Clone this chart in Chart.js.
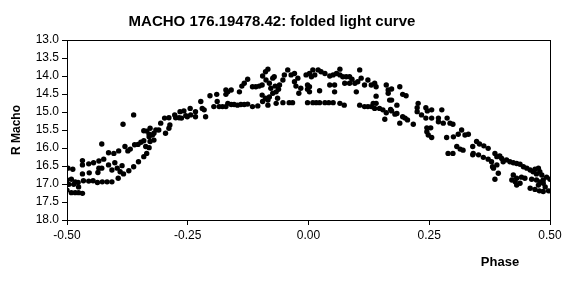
<!DOCTYPE html>
<html>
<head>
<meta charset="utf-8">
<script src="https://cdn.jsdelivr.net/npm/chart.js@4"></script>
<style>
  body { margin: 0; background: #fff; }
  #wrap { width: 579px; height: 294px; }
</style>
</head>
<body>
<div id="wrap"><canvas id="lightCurve" width="579" height="294"></canvas></div>
<script>
// folded light curve
const phase = [
  -0.498,-0.488,-0.362,-0.384,-0.341,-0.428,-0.341,-0.347,-0.353,-0.360,
  -0.369,-0.380,-0.374,-0.393,-0.403,-0.414,-0.341,-0.352,-0.362,-0.372,
  -0.383,-0.394,-0.407,-0.417,-0.427,-0.437,-0.446,-0.455,-0.466,-0.468,
  -0.468,-0.455,-0.445,-0.434,-0.424,-0.434,-0.428,-0.436,-0.454,-0.468,
  -0.414,-0.401,-0.396,-0.390,-0.386,-0.407,-0.500,-0.491,-0.483,-0.477,
  -0.486,-0.496,-0.476,-0.500,-0.491,-0.483,-0.476,-0.468,
  -0.335,-0.330,-0.337,-0.328,-0.330,-0.335,-0.328,-0.320,-0.316,-0.320,
  -0.310,-0.306,-0.298,-0.289,-0.287,-0.296,-0.289,-0.277,-0.275,-0.268,
  -0.266,-0.263,-0.258,-0.254,-0.251,-0.245,-0.244,-0.234,-0.234,-0.223,
  -0.220,-0.216,-0.213,-0.204,-0.196,-0.190,-0.189,-0.185,-0.178,-0.171,
  -0.171,-0.171,-0.330,-0.323,
  -0.167,-0.160,-0.143,-0.138,-0.133,-0.126,-0.116,-0.109,-0.102,-0.096,
  -0.095,-0.089,-0.084,-0.088,-0.081,-0.078,-0.074,-0.071,-0.069,-0.067,
  -0.062,-0.060,-0.053,-0.050,-0.043,-0.036,-0.029,-0.029,-0.026,-0.022,
  -0.020,-0.016,-0.005,-0.002,-0.002,-0.096,-0.089,-0.084,-0.081,-0.074,
  -0.064,-0.084,-0.067,-0.053,-0.040,-0.033,-0.002,-0.167,-0.160,-0.154,
  -0.147,-0.140,-0.133,-0.126,-0.116,-0.105,-0.095,
  0.002,0.009,0.020,0.026,0.034,0.006,0.013,0.044,0.051,0.058,
  0.065,0.065,0.071,0.078,0.085,0.090,0.075,0.085,0.096,0.102,
  0.106,0.109,0.116,0.123,0.130,0.137,0.140,0.002,0.002,0.023,
  0.044,0.054,0.054,0.099,0.140,0.161,0.165,0.165,0.009,0.016,
  0.023,0.034,0.042,0.051,0.065,0.074,0.106,0.116,0.123,0.130,
  0.134,0.140,0.137,0.147,0.154,0.161,0.158,0.168,0.170,
  0.172,0.189,0.172,0.183,0.195,0.202,0.172,0.179,0.183,0.195,
  0.200,0.205,0.189,0.217,0.227,0.225,0.225,0.234,0.243,0.243,
  0.246,0.255,0.276,0.255,0.269,0.269,0.279,0.287,0.293,0.299,
  0.245,0.253,0.245,0.255,0.248,0.286,0.300,0.310,0.317,0.324,
  0.331,0.307,0.314,0.320,0.289,0.299,0.340,0.340,
  0.348,0.354,0.363,0.372,0.341,0.352,0.362,0.372,0.379,0.386,
  0.390,0.396,0.400,0.403,0.381,0.390,0.383,0.393,0.386,0.410,
  0.417,0.424,0.431,0.438,0.445,0.452,0.459,0.469,0.476,0.479,
  0.465,0.472,0.483,0.424,0.431,0.441,0.448,0.421,0.428,0.438,
  0.431,0.462,0.472,0.479,0.486,0.493,0.500,0.476,0.486,0.459,
  0.469,0.478,0.486,0.497,0.490
];
const rMacho = [
  16.56,16.59,15.08,15.34,15.52,15.89,15.80,15.84,15.90,15.91,
  16.03,15.96,16.08,16.08,16.15,16.13,16.24,16.38,16.52,16.63,
  16.72,16.84,16.94,16.94,16.94,16.96,16.91,16.92,16.91,16.35,
  16.47,16.44,16.41,16.36,16.31,16.56,16.56,16.68,16.69,16.72,
  16.47,16.41,16.56,16.66,16.49,16.61,16.89,16.87,16.94,16.96,
  17.01,17.01,17.08,17.17,17.24,17.24,17.24,17.26,
  16.15,15.99,15.96,15.82,15.69,15.53,15.45,15.78,15.50,15.59,
  15.50,15.31,15.17,15.16,15.36,15.59,15.45,15.08,15.16,15.16,
  14.99,15.17,14.97,15.10,15.13,14.90,15.08,15.13,14.99,14.71,
  14.90,14.94,15.13,14.55,14.85,14.51,14.71,14.85,14.85,14.39,
  14.51,14.85,15.62,15.64,
  14.44,14.39,14.44,14.28,14.20,14.09,14.30,14.30,14.28,14.25,
  14.00,13.88,13.81,14.11,14.20,14.34,14.06,14.02,14.28,14.44,
  14.37,14.25,14.11,13.97,13.83,13.97,13.93,14.16,14.28,14.06,
  14.48,14.34,13.97,14.25,14.37,14.53,14.62,14.67,14.58,14.48,
  14.62,14.81,14.76,14.74,14.74,14.74,14.74,14.76,14.79,14.79,
  14.81,14.79,14.79,14.78,14.85,14.83,14.71,
  13.93,13.83,13.83,13.88,13.93,14.02,13.97,14.00,13.97,13.93,
  13.81,13.97,14.02,14.02,14.02,14.09,14.20,14.20,14.20,14.16,
  13.83,14.06,14.25,14.11,14.25,14.20,14.30,14.30,14.44,14.41,
  14.25,14.25,14.44,14.44,14.56,14.25,14.39,14.48,14.74,14.74,
  14.74,14.74,14.74,14.74,14.76,14.81,14.81,14.85,14.85,14.85,
  14.76,14.76,14.90,14.90,14.94,15.02,15.20,14.67,14.93,
  14.36,14.30,14.67,14.81,14.51,14.55,14.97,15.06,15.04,15.13,
  15.17,15.22,15.31,15.34,14.76,14.88,14.99,15.08,14.88,15.17,
  14.97,14.94,14.94,15.17,15.17,15.27,15.31,15.17,15.31,15.34,
  15.44,15.44,15.55,15.71,15.64,15.71,15.69,15.62,15.50,15.64,
  15.62,15.96,16.03,16.06,16.15,16.15,15.96,16.19,
  15.82,15.89,15.94,16.01,16.15,16.19,16.26,16.31,16.38,16.15,
  16.24,16.22,16.29,16.38,16.52,16.47,16.56,16.70,16.87,16.33,
  16.38,16.41,16.43,16.45,16.52,16.56,16.61,16.59,16.56,16.66,
  16.66,16.72,16.75,16.75,16.84,16.81,16.84,16.89,16.94,16.98,
  17.03,16.87,16.89,16.94,16.89,16.81,16.87,17.03,16.98,17.12,
  17.15,17.19,17.21,17.19,17.08
];
const phaseTicks = [-0.5, -0.25, 0, 0.25, 0.5];
const magTicks = [13, 13.5, 14, 14.5, 15, 15.5, 16, 16.5, 17, 17.5, 18];

const FONT = '"Liberation Sans", Arial, sans-serif';

const points = phase.map((p, i) => ({ x: p, y: rMacho[i] }));

// box around the plot plus the title and axis captions
const frameAndText = {
  id: 'frameAndText',
  afterDraw(chart) {
    const { ctx, chartArea: a } = chart;
    ctx.save();
    ctx.strokeStyle = '#000';
    ctx.lineWidth = 1;
    ctx.strokeRect(Math.round(a.left) + 0.5, Math.round(a.top) + 0.5,
      Math.round(a.right - a.left), Math.round(a.bottom - a.top));

    ctx.fillStyle = '#000';
    ctx.textAlign = 'center';
    ctx.textBaseline = 'middle';
    ctx.font = 'bold 15px ' + FONT;
    ctx.fillText('MACHO 176.19478.42: folded light curve', 272, 22);

    ctx.font = 'bold 13px ' + FONT;
    ctx.fillText('Phase', 500, 262);

    ctx.font = 'bold 12px ' + FONT;
    ctx.translate(17, (a.top + a.bottom) / 2);
    ctx.rotate(-Math.PI / 2);
    ctx.fillText('R Macho', 0, 0);
    ctx.restore();
  }
};

new Chart(document.getElementById('lightCurve'), {
  type: 'scatter',
  data: {
    datasets: [{
      label: 'R Macho',
      data: points,
      backgroundColor: '#000',
      borderColor: '#000',
      borderWidth: 0,
      pointRadius: 2.7,
      pointHoverRadius: 2.7
    }]
  },
  options: {
    responsive: false,
    animation: false,
    devicePixelRatio: 1,
    layout: { padding: { top: 40, right: 29, left: 0, bottom: 0 } },
    plugins: {
      legend: { display: false },
      title: { display: false },
      tooltip: { enabled: false }
    },
    scales: {
      x: {
        type: 'linear',
        min: -0.5,
        max: 0.5,
        afterBuildTicks: s => { s.ticks = phaseTicks.map(v => ({ value: v })); },
        afterFit: s => { s.height = 74; },
        ticks: {
          color: '#000',
          font: { family: FONT, size: 12 },
          padding: 3,
          maxRotation: 0,
          callback: v => v.toFixed(2)
        },
        grid: { drawOnChartArea: false, tickLength: 5, tickColor: '#000' },
        border: { color: '#000' }
      },
      y: {
        reverse: true,
        min: 13,
        max: 18,
        afterBuildTicks: s => { s.ticks = magTicks.map(v => ({ value: v })); },
        afterFit: s => { s.width = 67; },
        ticks: {
          color: '#000',
          font: { family: FONT, size: 12 },
          padding: 3,
          callback: v => v.toFixed(1)
        },
        grid: { drawOnChartArea: false, tickLength: 5, tickColor: '#000' },
        border: { color: '#000' }
      }
    }
  },
  plugins: [frameAndText]
});
</script>
</body>
</html>
